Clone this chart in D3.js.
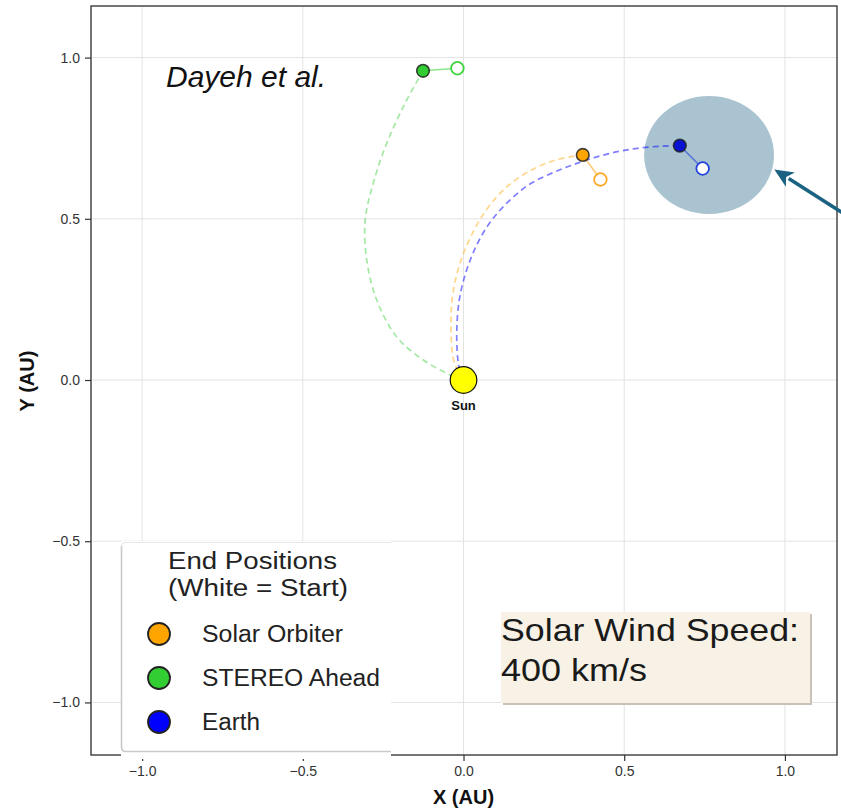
<!DOCTYPE html>
<html>
<head>
<meta charset="utf-8">
<script src="https://cdn.jsdelivr.net/npm/d3@7"></script>
<style>
  html, body { margin: 0; padding: 0; background: #fff; }
  svg { display: block; font-family: "Liberation Sans", Arial, sans-serif; }
</style>
</head>
<body>
<svg id="chart" width="841" height="812"></svg>
<script>
// Heliocentric positions (AU) of the three observers
const bodies = ["Solar Orbiter", "STEREO Ahead", "Earth"];
const endX = [0.371, -0.126, 0.673];
const endY = [0.698, 0.959, 0.727];
const startX = [0.426, -0.019, 0.744];
const startY = [0.622, 0.967, 0.656];
const bodyColors = ["#ffa500", "#32cd32", "#0000ff"];
const endFill = ["#ffa500", "#32cd32", "#0a12d2"];
const startStroke = ["#ffa826", "#3dd43d", "#2443dc"];

// Parker-spiral field lines traced from the Sun to each observer
const orbiterSpiral = [[0, 0], [-0.016, 0.026], [-0.032, 0.067], [-0.039, 0.160], [-0.035, 0.253],
  [-0.016, 0.346], [0.020, 0.439], [0.067, 0.522], [0.129, 0.594], [0.202, 0.646], [0.285, 0.682], [0.371, 0.698]];
const stereoSpiral = [[0, 0], [-0.042, 0.016], [-0.125, 0.062], [-0.208, 0.134], [-0.270, 0.248],
  [-0.301, 0.372], [-0.306, 0.496], [-0.281, 0.610], [-0.239, 0.734], [-0.182, 0.858], [-0.126, 0.959]];
const earthSpiral = [[0, 0], [-0.011, 0.026], [-0.018, 0.067], [-0.021, 0.150], [-0.014, 0.243],
  [0.005, 0.326], [0.036, 0.408], [0.077, 0.481], [0.129, 0.543], [0.202, 0.605], [0.285, 0.646],
  [0.368, 0.677], [0.456, 0.703], [0.559, 0.721], [0.673, 0.727]];
const spirals = [orbiterSpiral, stereoSpiral, earthSpiral];

const tickValues = [-1.0, -0.5, 0.0, 0.5, 1.0];
const windSpeed = 400;

// Highlighted region around Earth and the arrow pointing at it
const highlight = { cx: 0.764, cy: 0.698, rx: 0.202, ry: 0.183 };
const arrowTail = [1.19, 0.512];
const arrowTip = [0.967, 0.653];

const svg = d3.select("#chart");
const plot = { left: 91, top: 6, right: 837, bottom: 755 };

const x = d3.scaleLinear().domain([-1.159, 1.162]).range([plot.left, plot.right]);
const y = d3.scaleLinear().domain([-1.163, 1.160]).range([plot.bottom, plot.top]);

// grid
const grid = svg.append("g");
grid.selectAll(".gx").data(tickValues).join("line")
  .attr("x1", d => x(d)).attr("x2", d => x(d))
  .attr("y1", plot.top).attr("y2", plot.bottom)
  .attr("stroke", "#e3e3e3").attr("stroke-width", 1);
grid.selectAll(".gy").data(tickValues).join("line")
  .attr("y1", d => y(d)).attr("y2", d => y(d))
  .attr("x1", plot.left).attr("x2", plot.right)
  .attr("stroke", "#e3e3e3").attr("stroke-width", 1);

// axes
const fmt = d => d3.format(".1f")(d).replace("-", "\u2212");
const xAxis = svg.append("g").attr("transform", `translate(0,${plot.bottom})`)
  .call(d3.axisBottom(x).tickValues(tickValues).tickFormat(fmt).tickSize(6).tickSizeOuter(0));
const yAxis = svg.append("g").attr("transform", `translate(${plot.left},0)`)
  .call(d3.axisLeft(y).tickValues(tickValues).tickFormat(fmt).tickSize(6).tickSizeOuter(0));
[xAxis, yAxis].forEach(a => {
  a.select(".domain").remove();
  a.selectAll(".tick line").attr("stroke", "#333").attr("stroke-width", 1.2);
  a.selectAll(".tick text").attr("fill", "#333").style("font-size", "14px")
    .style("font-family", "'Liberation Sans', Arial, sans-serif");
});
xAxis.selectAll(".tick text").attr("dy", "0.71em").attr("y", 11);
yAxis.selectAll(".tick text").attr("x", -11);

// frame
svg.append("rect")
  .attr("x", plot.left).attr("y", plot.top)
  .attr("width", plot.right - plot.left).attr("height", plot.bottom - plot.top)
  .attr("fill", "none").attr("stroke", "#2b2b2b").attr("stroke-width", 1.3);

// axis titles
svg.append("text").attr("x", x(0)).attr("y", 804).attr("text-anchor", "middle")
  .style("font-size", "20px").style("font-weight", "bold").attr("fill", "#111").text("X (AU)");
svg.append("text").attr("transform", `translate(34,${y(0) + 1}) rotate(-90)`).attr("text-anchor", "middle")
  .style("font-size", "20px").style("font-weight", "bold").attr("fill", "#111").text("Y (AU)");

// highlight ellipse
svg.append("ellipse")
  .attr("cx", x(highlight.cx)).attr("cy", y(highlight.cy))
  .attr("rx", x(highlight.rx) - x(0)).attr("ry", y(0) - y(highlight.ry))
  .attr("fill", "#a9c4d0");

// spiral field lines
const line = d3.line().x(d => x(d[0])).y(d => y(d[1])).curve(d3.curveCatmullRom.alpha(0.5));
svg.append("g").selectAll("path").data(spirals).join("path")
  .attr("d", line)
  .attr("fill", "none")
  .attr("stroke", (d, i) => bodyColors[i])
  .attr("stroke-opacity", (d, i) => i === 2 ? 0.5 : 0.45)
  .attr("stroke-width", 1.7)
  .attr("stroke-dasharray", "6,4");

// start -> end connectors
svg.append("g").selectAll("line").data(bodies).join("line")
  .attr("x1", (d, i) => x(startX[i])).attr("y1", (d, i) => y(startY[i]))
  .attr("x2", (d, i) => x(endX[i])).attr("y2", (d, i) => y(endY[i]))
  .attr("stroke", (d, i) => startStroke[i])
  .attr("stroke-opacity", 0.6)
  .attr("stroke-width", 1.6);

// start markers (open)
svg.append("g").selectAll("circle").data(bodies).join("circle")
  .attr("cx", (d, i) => x(startX[i])).attr("cy", (d, i) => y(startY[i]))
  .attr("r", 6.3)
  .attr("fill", "#fff")
  .attr("stroke", (d, i) => startStroke[i])
  .attr("stroke-width", 1.8);

// end markers (filled)
svg.append("g").selectAll("circle").data(bodies).join("circle")
  .attr("cx", (d, i) => x(endX[i])).attr("cy", (d, i) => y(endY[i]))
  .attr("r", 6.3)
  .attr("fill", (d, i) => endFill[i])
  .attr("stroke", "#222")
  .attr("stroke-opacity", 0.85)
  .attr("stroke-width", 1.6);

// Sun
svg.append("circle").attr("cx", x(0)).attr("cy", y(0)).attr("r", 13.3)
  .attr("fill", "#ffff00").attr("stroke", "#111").attr("stroke-width", 1.2);
svg.append("text").attr("x", x(0)).attr("y", y(0) + 30).attr("text-anchor", "middle")
  .style("font-size", "13px").style("font-weight", "bold").attr("fill", "#111").text("Sun");

// citation
svg.append("text").attr("x", 166).attr("y", 87)
  .style("font-size", "30px").style("font-style", "italic").attr("fill", "#111")
  .text("Dayeh et al.");

// arrow toward the highlighted region
const ax0 = x(arrowTail[0]), ay0 = y(arrowTail[1]);
const ax1 = x(arrowTip[0]), ay1 = y(arrowTip[1]);
const ang = Math.atan2(ay1 - ay0, ax1 - ax0);
const headLen = 19, headHalf = 8.5;
const bx = ax1 - headLen * Math.cos(ang), by = ay1 - headLen * Math.sin(ang);
svg.append("line").attr("x1", ax0).attr("y1", ay0).attr("x2", bx + 2 * Math.cos(ang)).attr("y2", by + 2 * Math.sin(ang))
  .attr("stroke", "#1b6282").attr("stroke-width", 3.6);
svg.append("path")
  .attr("d", `M${ax1},${ay1} L${bx - headHalf * Math.sin(ang)},${by + headHalf * Math.cos(ang)} ` +
             `L${bx + 5 * Math.cos(ang)},${by + 5 * Math.sin(ang)} ` +
             `L${bx + headHalf * Math.sin(ang)},${by - headHalf * Math.cos(ang)} Z`)
  .attr("fill", "#1b6282");

// legend
const lg = svg.append("g");
lg.append("rect").attr("x", 121).attr("y", 541).attr("width", 270).attr("height", 218).attr("fill", "#fff");
lg.append("path").attr("d", "M391,542.5 H125 Q121.5,542.5 121.5,546")
  .attr("fill", "none").attr("stroke", "#e6e6e6").attr("stroke-width", 1);
lg.append("path").attr("d", "M121.5,546 V747 Q121.5,751.5 126,751.5 H391")
  .attr("fill", "none").attr("stroke", "#c9c9c9").attr("stroke-width", 1.6);
lg.append("text").attr("x", 168).attr("y", 569).attr("textLength", 169).attr("lengthAdjust", "spacingAndGlyphs")
  .style("font-size", "23px").attr("fill", "#222").text("End Positions");
lg.append("text").attr("x", 168).attr("y", 596).attr("textLength", 180).attr("lengthAdjust", "spacingAndGlyphs")
  .style("font-size", "23px").attr("fill", "#222").text("(White = Start)");
const legendRows = [0, 1, 2];
const legendWidths = [141, 178, 58];
const rowY = d3.scalePoint().domain(legendRows).range([634, 722]);
lg.selectAll(".lc").data(legendRows).join("circle")
  .attr("cx", 159).attr("cy", d => rowY(d)).attr("r", 11)
  .attr("fill", d => bodyColors[d]).attr("stroke", "#222").attr("stroke-width", 1.8);
lg.selectAll(".lt").data(legendRows).join("text")
  .attr("x", 202).attr("y", d => rowY(d) + 8)
  .attr("textLength", d => legendWidths[d]).attr("lengthAdjust", "spacingAndGlyphs")
  .style("font-size", "23px").attr("fill", "#222").text(d => bodies[d]);

// solar wind speed box
const sb = svg.append("g");
sb.append("rect").attr("x", 503).attr("y", 614).attr("width", 309).attr("height", 91).attr("fill", "#c8c2b8");
sb.append("rect").attr("x", 501).attr("y", 612).attr("width", 309).attr("height", 91).attr("fill", "#f8f2e6");
sb.append("text").attr("x", 501).attr("y", 641).attr("textLength", 298).attr("lengthAdjust", "spacingAndGlyphs")
  .style("font-size", "32px").attr("fill", "#1a1a1a").text("Solar Wind Speed:");
sb.append("text").attr("x", 501).attr("y", 681).attr("textLength", 146).attr("lengthAdjust", "spacingAndGlyphs")
  .style("font-size", "32px").attr("fill", "#1a1a1a").text(`${windSpeed} km/s`);
</script>
</body>
</html>
